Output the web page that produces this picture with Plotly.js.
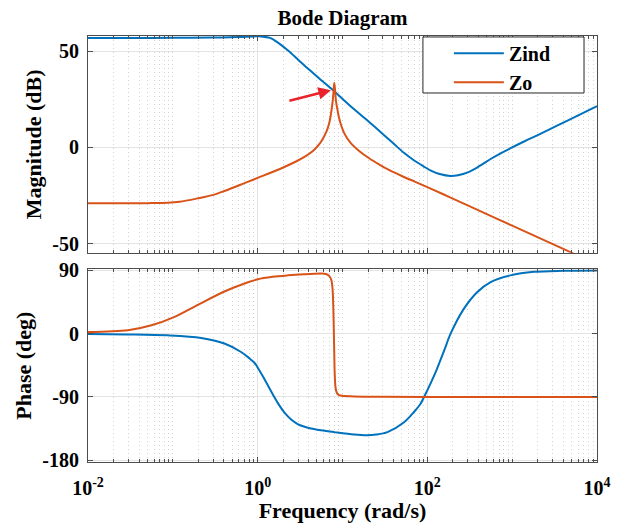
<!DOCTYPE html>
<html>
<head>
<meta charset="utf-8">
<script src="https://cdn.plot.ly/plotly-3.0.1.min.js"></script>
<style>
  html, body { margin: 0; padding: 0; background: #fff; }
  #bode { width: 623px; height: 523px; }
</style>
</head>
<body>
<div id="bode"></div>
<script>
// Magnitude of the input impedance Zind (dB) versus frequency (rad/s)
const freqZindMag = [0.01, 0.03, 0.1, 0.3, 0.6, 0.9, 1.1, 1.4, 1.7, 2.26, 3, 4, 5.57, 8.15, 12, 20.6, 30, 40, 53, 70,
                     90, 110, 140, 188, 230, 300, 400, 557, 750, 957, 1400, 2000, 3381, 6000, 10000];
const magZind = [56.8, 56.8, 56.85, 57.0, 57.3, 57.6, 57.6, 56.8, 54.6, 50.4, 45.5, 40.5, 35, 28.8, 22, 13.2, 6.9, 2, -2.8, -6.8,
                 -9.8, -12, -13.8, -14.8, -14.4, -12.9, -10.0, -6.0, -2.8, -0.4, 3.2, 6.4, 11.3, 16.6, 21.4];

// Magnitude of the output impedance Zo (dB), with its resonance near 8 rad/s
const freqZoMag = [0.01, 0.03, 0.05, 0.087, 0.12, 0.197, 0.3, 0.405, 0.7, 1, 1.8, 2.83, 3.6, 4.44, 5.3, 5.82, 6.5, 6.97,
                   7.29, 7.64, 7.82, 8.0, 8.2, 8.38, 8.73, 9.14, 10.5, 12.6, 15.7, 20.6, 27, 33.9, 50, 70, 100, 188,
                   557, 1000, 4864, 10000];
const magZo = [-29, -29, -28.9, -28.7, -28.2, -26.4, -24.6, -22.6, -18.5, -15.8, -11.3, -7.3, -4.8, -2.0, 1.6, 4.3, 8.5, 12.5,
               17, 23.5, 28.5, 33.6, 29, 24, 19.5, 15, 7.3, 2.1, -1.8, -5.6, -8.8, -11.3, -14.8, -17.6, -20.6, -26.0,
               -35.5, -40.6, -54.3, -60.6];

// Phase of Zind (deg)
const freqZindPh = [0.01, 0.03, 0.087, 0.216, 0.405, 0.637, 0.8, 0.91, 1, 1.2, 1.57, 1.8, 2.06, 2.5, 2.96, 3.5, 4, 5.57, 8,
                    13.7, 19.5, 25, 33.9, 53.2, 70, 82.8, 91.5, 110, 130, 160, 188, 268, 386, 557, 957, 1800, 4000, 10000];
const phZind = [-0.5, -1, -2.3, -6, -14, -26, -35, -41, -48, -64.5, -90, -102, -112, -122.5, -128.5, -132, -134, -137.3, -140,
                -143.5, -144.5, -143.5, -140, -126, -111, -100, -90, -70, -50, -22, 0, 35, 59, 73.5, 83, 88, 89.5, 90];

// Phase of Zo (deg)
const freqZoPh = [0.01, 0.0296, 0.056, 0.105, 0.197, 0.405, 0.7, 1, 1.5, 2.26, 3.5, 5.57, 6.38, 7.0, 7.4, 7.65, 7.8, 7.9,
                  8.0, 8.1, 8.25, 8.45, 8.8, 9.5, 13.7, 30, 100, 10000];
const phZo = [2.4, 5, 12, 24, 41, 60, 71.5, 77.5, 81, 83, 84.5, 85.5, 85, 82, 76, 62, 35, 5,
              -30, -58, -75, -82, -86, -88, -89.2, -89.8, -90, -90];

// Axis ticks and labels
const freqTicks = [0.01, 1, 100, 10000];
const freqTickText = ['10<sup>-2</sup>', '10<sup>0</sup>', '10<sup>2</sup>', '10<sup>4</sup>'];
const magTicks = [-50, 0, 50];
const magTickText = ['-50', '0', '50'];
const phTicks = [-180, -90, 0, 90];
const phTickText = ['-180', '-90', '0', '90'];

const seriesNames = ['Zind', 'Zo'];
const blue = '#0072BD';
const orange = '#D95319';

// minor log ticks: 2..9 in each decade plus the unlabeled decades
const minorTicks = [];
for (let d = -2; d < 4; d++) {
  for (let k = 1; k <= 9; k++) {
    if (k === 1 && d % 2 === 0) continue;
    minorTicks.push(k * Math.pow(10, d));
  }
}

const serif = 'Liberation Serif, Times New Roman, serif';
const lineStyle = (c) => ({ color: c, width: 2, shape: 'spline', smoothing: 0.9 });

const traces = [
  { x: freqZindMag, y: magZind, name: seriesNames[0], type: 'scatter', mode: 'lines', line: lineStyle(blue), xaxis: 'x', yaxis: 'y' },
  { x: freqZoMag, y: magZo, name: seriesNames[1], type: 'scatter', mode: 'lines', line: lineStyle(orange), xaxis: 'x', yaxis: 'y' },
  { x: freqZindPh, y: phZind, name: seriesNames[0], type: 'scatter', mode: 'lines', line: lineStyle(blue), xaxis: 'x2', yaxis: 'y2', showlegend: false },
  { x: freqZoPh, y: phZo, name: seriesNames[1], type: 'scatter', mode: 'lines', line: lineStyle(orange), xaxis: 'x2', yaxis: 'y2', showlegend: false }
];

const axisColor = '#4d4d4d';
const tickFont = { family: serif, size: 20, color: '#000', weight: 'bold' };
const titleFont = { family: serif, size: 22, color: '#000', weight: 'bold' };

const xBase = {
  type: 'log',
  range: [-2, 4],
  tickmode: 'array',
  tickvals: freqTicks,
  ticks: 'inside',
  ticklen: 5,
  tickcolor: axisColor,
  showline: true,
  linecolor: axisColor,
  linewidth: 1,
  mirror: 'allticks',
  showgrid: true,
  gridcolor: '#e3e3e3',
  gridwidth: 1,
  zeroline: false,
  minor: {
    tickmode: 'array',
    tickvals: minorTicks,
    ticks: 'inside',
    ticklen: 3,
    tickcolor: axisColor,
    showgrid: true,
    gridcolor: '#d2d2d2',
    griddash: '1px,3px',
    gridwidth: 1
  }
};

const yBase = {
  tickmode: 'array',
  ticks: 'inside',
  ticklen: 5,
  tickcolor: axisColor,
  showline: true,
  linecolor: axisColor,
  linewidth: 1,
  mirror: 'allticks',
  showgrid: true,
  gridcolor: '#e3e3e3',
  zeroline: false,
  tickfont: tickFont,
  ticklabelstandoff: 4
};

const layout = {
  width: 623,
  height: 523,
  margin: { l: 88, r: 26, t: 36, b: 61 },
  paper_bgcolor: '#fff',
  plot_bgcolor: '#fff',
  showlegend: true,
  title: {
    text: 'Bode Diagram',
    font: { family: serif, size: 21, color: '#000', weight: 'bold' },
    x: 0.5, xref: 'paper', xanchor: 'center',
    y: 0.967, yref: 'container', yanchor: 'middle'
  },
  xaxis: Object.assign({}, xBase, { anchor: 'y', showticklabels: false }),
  xaxis2: Object.assign({}, xBase, {
    anchor: 'y2',
    ticktext: freqTickText,
    tickfont: tickFont,
    ticklabelstandoff: 8,
    title: { text: 'Frequency (rad/s)', font: titleFont, standoff: 4 }
  }),
  yaxis: Object.assign({}, yBase, {
    domain: [0.4913, 1],
    anchor: 'x',
    range: [-54.6, 57.8],
    tickvals: magTicks,
    ticktext: magTickText,
    title: { text: 'Magnitude (dB)', font: titleFont, standoff: 4 }
  }),
  yaxis2: Object.assign({}, yBase, {
    domain: [0, 0.4523],
    anchor: 'x2',
    range: [-182.5, 91.6],
    tickvals: phTicks,
    ticktext: phTickText,
    title: { text: 'Phase (deg)', font: titleFont, standoff: 4 }
  }),
  legend: {
    x: 0.709, y: 1.005, xanchor: 'left', yanchor: 'top',
    bgcolor: 'rgba(0,0,0,0)',
    borderwidth: 0,
    itemwidth: 50,
    tracegroupgap: 0,
    font: { family: serif, size: 20, color: '#000', weight: 'bold' }
  },
  shapes: [
    {
      type: 'rect', xref: 'paper', yref: 'paper',
      x0: 0.658, x1: 0.9745, y0: 0.8662, y1: 0.9977,
      fillcolor: '#fff', line: { color: '#262626', width: 1 }, layer: 'above'
    }
  ],
  annotations: [
    {
      xref: 'x', yref: 'y',
      x: Math.log10(7.3), y: 29.7,
      ax: -43, ay: 11,
      showarrow: true, arrowhead: 2, arrowsize: 1, arrowwidth: 2.5,
      arrowcolor: '#E8232A', text: ''
    }
  ]
};

Plotly.newPlot('bode', traces, layout, { displayModeBar: false, staticPlot: true });
</script>
</body>
</html>
